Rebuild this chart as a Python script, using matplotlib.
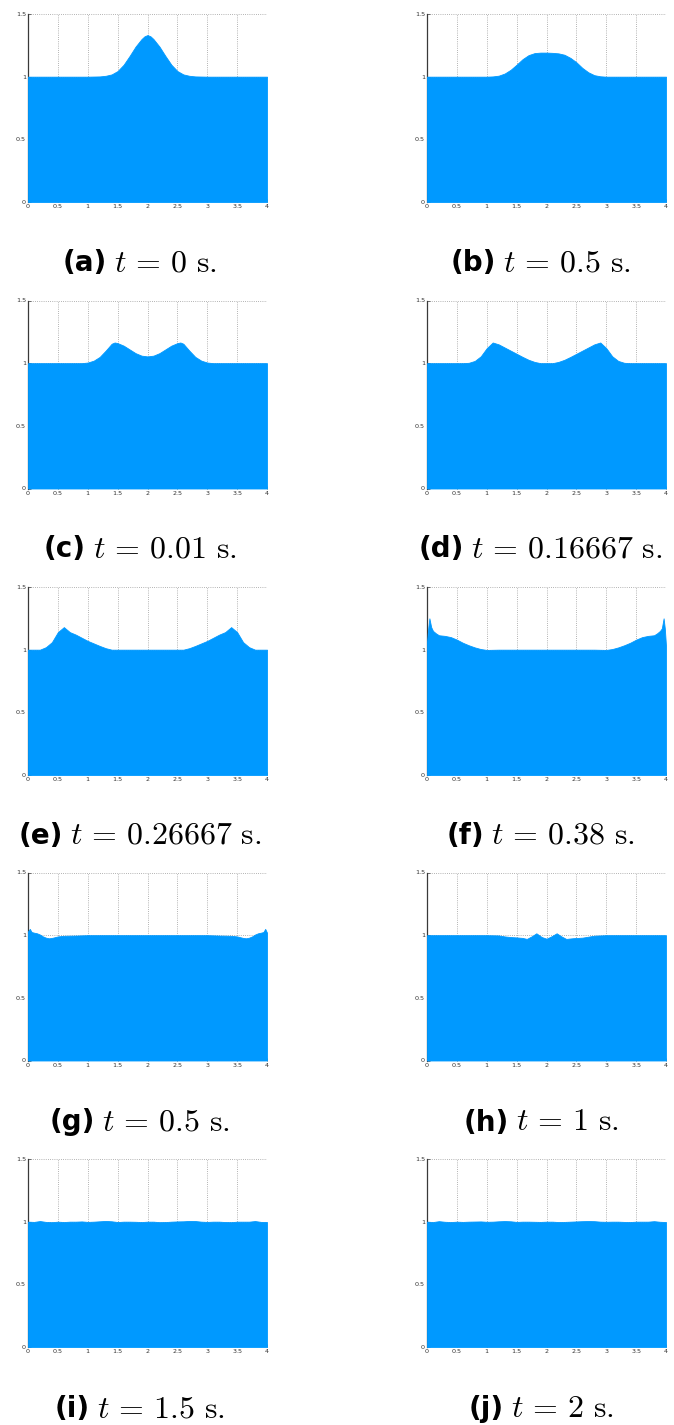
import matplotlib
matplotlib.use("Agg")
import matplotlib.pyplot as plt

plt.rcParams['mathtext.fontset'] = 'cm'

# ---------------- data ----------------
x_a = [0, 0.5, 1.0, 1.2, 1.3, 1.4, 1.5, 1.6, 1.7, 1.8, 1.9, 1.95, 2.0, 2.05, 2.1, 2.2, 2.3, 2.4, 2.5, 2.6, 2.7, 2.8, 3.0, 3.5, 4.0]
h_a = [1.0, 1.0, 1.0, 1.002, 1.007, 1.018, 1.045, 1.095, 1.165, 1.24, 1.30, 1.322, 1.332, 1.322, 1.30, 1.24, 1.165, 1.095, 1.045, 1.018, 1.007, 1.002, 1.0, 1.0, 1.0]

x_b = [0, 1.0, 1.1, 1.2, 1.3, 1.4, 1.5, 1.6, 1.7, 1.8, 1.9, 2.0, 2.1, 2.2, 2.3, 2.4, 2.5, 2.6, 2.7, 2.8, 2.9, 3.0, 4.0]
h_b = [1.0, 1.0, 1.002, 1.008, 1.025, 1.055, 1.096, 1.14, 1.172, 1.188, 1.192, 1.192, 1.19, 1.186, 1.175, 1.15, 1.115, 1.07, 1.035, 1.012, 1.003, 1.0, 1.0]

x_c = [0, 0.9, 1.0, 1.1, 1.2, 1.3, 1.4, 1.45, 1.5, 1.6, 1.7, 1.8, 1.9, 2.0, 2.1, 2.2, 2.3, 2.4, 2.5, 2.55, 2.6, 2.7, 2.8, 2.9, 3.0, 3.1, 4.0]
h_c = [1.0, 1.0, 1.005, 1.02, 1.05, 1.10, 1.155, 1.165, 1.16, 1.14, 1.11, 1.08, 1.06, 1.054, 1.06, 1.08, 1.11, 1.14, 1.16, 1.165, 1.155, 1.10, 1.05, 1.02, 1.005, 1.0, 1.0]

x_d = [0, 0.6, 0.7, 0.8, 0.9, 1.0, 1.1, 1.2, 1.3, 1.4, 1.5, 1.6, 1.7, 1.8, 1.9, 2.1, 2.2, 2.3, 2.4, 2.5, 2.6, 2.7, 2.8, 2.9, 3.0, 3.1, 3.2, 3.3, 3.4, 4.0]
h_d = [1.0, 1.0, 1.003, 1.018, 1.055, 1.12, 1.165, 1.15, 1.125, 1.10, 1.075, 1.05, 1.027, 1.01, 1.0,
       1.0, 1.01, 1.027, 1.05, 1.075, 1.10, 1.125, 1.15, 1.165, 1.12, 1.055, 1.018, 1.003, 1.0, 1.0]

x_e = [0, 0.2, 0.3, 0.4, 0.5, 0.6, 0.7, 0.8, 0.9, 1.0, 1.1, 1.2, 1.3, 1.4, 2.6, 2.7, 2.8, 2.9, 3.0, 3.1, 3.2, 3.3, 3.4, 3.5, 3.6, 3.7, 3.8, 4.0]
h_e = [1.0, 1.0, 1.02, 1.06, 1.14, 1.18, 1.14, 1.12, 1.095, 1.07, 1.05, 1.03, 1.012, 1.0,
       1.0, 1.012, 1.03, 1.05, 1.07, 1.095, 1.12, 1.14, 1.18, 1.14, 1.06, 1.02, 1.0, 1.0]

x_f = [0, 0.02, 0.04, 0.07, 0.1, 0.15, 0.2, 0.3, 0.4, 0.5, 0.6, 0.7, 0.8, 0.9, 1.0, 1.2, 1.5, 2.5, 2.8, 3.0, 3.1, 3.2, 3.3, 3.4, 3.5, 3.6, 3.7, 3.8, 3.85, 3.9, 3.93, 3.96, 3.98, 4.0]
h_f = [1.06, 1.17, 1.25, 1.18, 1.15, 1.13, 1.115, 1.11, 1.10, 1.08, 1.055, 1.035, 1.018, 1.005, 0.998, 1.0, 1.0,
       1.0, 1.0, 0.998, 1.005, 1.018, 1.035, 1.055, 1.08, 1.10, 1.11, 1.115, 1.13, 1.15, 1.17, 1.25, 1.17, 1.03]

x_g = [0, 0.03, 0.06, 0.1, 0.15, 0.2, 0.25, 0.3, 0.35, 0.4, 0.5, 0.6, 0.8, 1.0, 3.0, 3.2, 3.4, 3.5, 3.6, 3.65, 3.7, 3.75, 3.8, 3.85, 3.9, 3.94, 3.97, 4.0]
h_g = [1.03, 1.05, 1.025, 1.02, 1.015, 1.005, 0.99, 0.98, 0.975, 0.978, 0.99, 0.995, 0.997, 1.0,
       1.0, 0.997, 0.995, 0.99, 0.978, 0.975, 0.98, 0.99, 1.005, 1.015, 1.02, 1.025, 1.05, 1.02]

x_h = [0, 0.5, 1.0, 1.2, 1.3, 1.4, 1.5, 1.6, 1.67, 1.75, 1.83, 1.92, 2.0, 2.08, 2.17, 2.25, 2.33, 2.45, 2.6, 2.7, 2.8, 3.0, 3.5, 4.0]
h_h = [1.0, 1.0, 1.0, 0.998, 0.99, 0.985, 0.982, 0.978, 0.97, 0.99, 1.015, 0.985, 0.972, 0.99, 1.015, 0.99, 0.97, 0.976, 0.98, 0.988, 0.996, 1.0, 1.0, 1.0]

x_ij = [0.0, 0.1, 0.2, 0.3, 0.4, 0.5, 0.6, 0.7, 0.8, 0.9, 1.0, 1.1, 1.2, 1.3, 1.4, 1.5, 1.6, 1.7, 1.8, 1.9, 2.0,
        2.1, 2.2, 2.3, 2.4, 2.5, 2.6, 2.7, 2.8, 2.9, 3.0, 3.1, 3.2, 3.3, 3.4, 3.5, 3.6, 3.7, 3.8, 3.9, 4.0]
h_i = [1.0, 0.998, 1.005, 0.998, 0.996, 1.0, 0.997, 1.0, 1.0, 1.002, 0.998, 1.0, 1.003, 1.006, 1.003, 0.997, 1.0, 1.0, 0.999, 0.997, 1.0,
       1.0, 0.996, 0.997, 1.0, 1.002, 1.003, 1.006, 1.005, 1.0, 0.998, 1.0, 1.0, 0.997, 0.996, 1.0, 1.0, 1.0, 1.005, 0.998, 0.997]
h_j = [1.0, 0.997, 1.004, 0.999, 0.997, 1.0, 0.998, 1.0, 1.001, 1.002, 0.999, 1.0, 1.003, 1.005, 1.003, 0.998, 1.0, 1.0, 0.999, 0.998, 1.0,
       1.0, 0.997, 0.998, 1.0, 1.002, 1.004, 1.005, 1.004, 1.0, 0.999, 1.0, 1.0, 0.998, 0.997, 1.0, 1.0, 1.0, 1.004, 0.999, 0.997]

labels = ['(a)', '(b)', '(c)', '(d)', '(e)', '(f)', '(g)', '(h)', '(i)', '(j)']
times = ['0', '0.5', '0.01', '0.16667', '0.26667', '0.38', '0.5', '1', '1.5', '2']
xs = [x_a, x_b, x_c, x_d, x_e, x_f, x_g, x_h, x_ij, x_ij]
hs = [h_a, h_b, h_c, h_d, h_e, h_f, h_g, h_h, h_i, h_j]

x_ticks = [0, 0.5, 1, 1.5, 2, 2.5, 3, 3.5, 4]
x_ticklabels = ['0', '0.5', '1', '1.5', '2', '2.5', '3', '3.5', '4']
y_ticks = [0, 0.5, 1, 1.5]
y_ticklabels = ['0', '0.5', '1', '1.5']

# ---------------- figure ----------------
W, H = 674, 1425
fig = plt.figure(figsize=(W / 100, H / 100), dpi=100)

fill_color = '#0099ff'
col_left = [28, 427]
ax_w = 239
ax_h = 188
row_tops = [14, 300.5, 587, 872.5, 1159]
cap_cx = [140, 541]
cap_base = [271, 557.5, 844, 1130.5, 1417]

captions = []
for i in range(10):
    r, c = divmod(i, 2)
    left = col_left[c] / W
    bottom = 1 - (row_tops[r] + ax_h) / H
    ax = fig.add_axes([left, bottom, ax_w / W, ax_h / H])
    ax.fill_between(xs[i], 0, hs[i], color=fill_color, linewidth=0.6, edgecolor=fill_color, zorder=3)
    ax.set_xlim(0, 4)
    ax.set_ylim(0, 1.5)
    ax.set_xticks(x_ticks)
    ax.set_xticklabels(x_ticklabels)
    ax.set_yticks(y_ticks)
    ax.set_yticklabels(y_ticklabels)
    ax.grid(True, linestyle=(0, (1, 1.6)), color='#9a9a9a', linewidth=0.6, zorder=0)
    ax.set_axisbelow(True)
    for s in ['top', 'right', 'bottom']:
        ax.spines[s].set_visible(False)
    ax.spines['left'].set_color('#3a3a3a')
    ax.spines['left'].set_linewidth(0.9)
    ax.spines['left'].set_zorder(2)
    ax.tick_params(axis='both', which='both', direction='in', length=2, width=0.5,
                   color='#3a3a3a', labelsize=4.6, labelcolor='#333333')
    ax.tick_params(axis='x', pad=1.5)
    ax.tick_params(axis='y', pad=1.5)

    t_lab = fig.text(0, 0, labels[i], fontsize=20, fontweight='bold', family='DejaVu Sans',
                     ha='left', va='baseline', color='black')
    t_math = fig.text(0, 0, r'$t\,=\,%s\ \mathrm{s.}$' % times[i], fontsize=23,
                      ha='left', va='baseline', color='black')
    captions.append((t_lab, t_math, cap_cx[c], cap_base[r]))

fig.canvas.draw()
renderer = fig.canvas.get_renderer()
gap = 7
for t_lab, t_math, cx, base in captions:
    w1 = t_lab.get_window_extent(renderer).width
    w2 = t_math.get_window_extent(renderer).width
    total = w1 + gap + w2
    x0 = cx - total / 2
    y = 1 - base / H
    t_lab.set_position((x0 / W, y))
    t_math.set_position(((x0 + w1 + gap) / W, y))

fig.savefig('out.png', dpi=100, facecolor='white')
